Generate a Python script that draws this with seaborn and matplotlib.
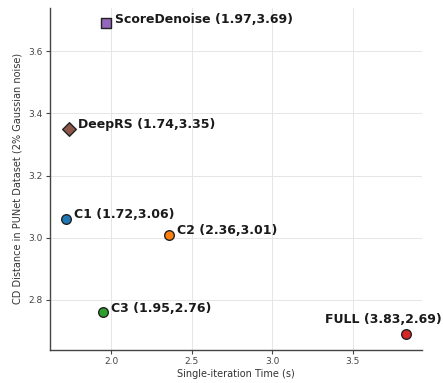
import matplotlib
matplotlib.use("Agg")
import matplotlib.pyplot as plt
import seaborn as sns
import pandas as pd

names = ["C1", "C2", "C3", "FULL", "ScoreDenoise", "DeepRS"]
times = [1.72, 2.36, 1.95, 3.83, 1.97, 1.74]
cds = [3.06, 3.01, 2.76, 2.69, 3.69, 3.35]
colors = ["#1f77b4", "#ff7f0e", "#2ca02c", "#d62728", "#9467bd", "#8c564b"]
markers = ["o", "o", "o", "o", "s", "D"]

df = pd.DataFrame({"name": names, "time": times, "cd": cds})

sns.set_theme(style="whitegrid")
plt.rcParams["font.family"] = ["DejaVu Sans"]

fig, ax = plt.subplots(figsize=(4.43, 3.83), dpi=100)
for n, m, c in zip(names, markers, colors):
    sub = df[df["name"] == n]
    sns.scatterplot(data=sub, x="time", y="cd", marker=m, color=c, s=48,
                    edgecolor="#222222", linewidth=1.0, ax=ax, zorder=3, legend=False)

for n, t, v in zip(names, times, cds):
    label = f"{n} ({t:.2f},{v:.2f})"
    if n == "FULL":
        ax.annotate(label, (t, v), xytext=(-16, 6), textcoords="offset points",
                    ha="center", va="bottom", fontsize=9, fontweight="bold", color="#1a1a1a")
        continue
    ax.annotate(label, (t, v), xytext=(6, 3), textcoords="offset points",
                ha="left", va="center",
                fontsize=9, fontweight="bold", color="#1a1a1a")

ax.set_xlim(min(times) - 0.1, max(times) + 0.1)
ax.set_ylim(min(cds) - 0.05, max(cds) + 0.05)
ax.set_xticks([2.0, 2.5, 3.0, 3.5])
ax.set_yticks([2.8, 3.0, 3.2, 3.4, 3.6])
ax.set_xlabel("Single-iteration Time (s)", fontsize=7, labelpad=2, color="#333333")
ax.set_ylabel("CD Distance in PUNet Dataset (2% Gaussian noise)", fontsize=7, labelpad=4, color="#333333")
ax.tick_params(axis="both", labelsize=6.5, length=3, width=0.8, bottom=True, left=True,
               color="#444444", labelcolor="#444444", pad=2.5)
ax.grid(True, color="#e6e6e6", linewidth=0.7)
for s in ["top", "right"]:
    ax.spines[s].set_visible(False)
for s in ["left", "bottom"]:
    ax.spines[s].set_color("#444444")
    ax.spines[s].set_linewidth(1.0)
ax.set_facecolor("white")

fig.subplots_adjust(left=0.113, right=0.952, bottom=0.087, top=0.98)
fig.savefig("out.png", dpi=100)
